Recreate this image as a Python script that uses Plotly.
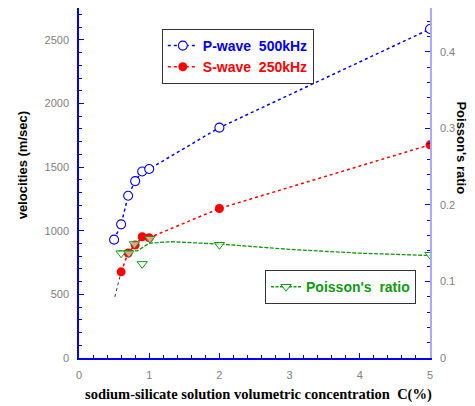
import plotly.graph_objects as go

# ---- data ----
p_x = [0.5, 0.6, 0.7, 0.8, 0.9, 1.0, 2.0, 5.0]
p_v = [930, 1050, 1275, 1390, 1465, 1485, 1810, 2585]

s_x = [0.6, 0.7, 0.8, 0.9, 1.0, 2.0, 5.0]
s_v = [677, 825, 887, 953, 945, 1175, 1675]

ext_x = [0.51, 0.6]
ext_v = [480, 677]

nu_x = [0.6, 0.71, 0.79, 0.9, 1.01, 2.0, 5.0]
nu_v = [0.137, 0.137, 0.149, 0.123, 0.156, 0.148, 0.135]

nu_fit_x = [0.56, 0.83, 1.0, 1.3, 2.0, 3.0, 4.0, 5.0]
nu_fit_v = [0.140, 0.140, 0.150, 0.152, 0.149, 0.142, 0.137, 0.134]

x_ticks = [0, 1, 2, 3, 4, 5]
v_ticks = [0, 500, 1000, 1500, 2000, 2500]
nu_ticks = [0, 0.1, 0.2, 0.3, 0.4]

BLUE = "#0000ee"
RED = "#ff0000"
GREEN = "#119911"
SANS = "Arial, Liberation Sans, sans-serif"

fig = go.Figure()

fig.add_trace(go.Scatter(
    x=ext_x, y=ext_v, mode="lines", showlegend=False,
    line=dict(color="#333333", width=1, dash="dot")))

fig.add_trace(go.Scatter(
    x=nu_fit_x, y=nu_fit_v, mode="lines", yaxis="y2", showlegend=False,
    line=dict(color=GREEN, width=1.3, dash="4px,1.5px")))

fig.add_trace(go.Scatter(
    x=nu_x, y=nu_v, mode="markers", yaxis="y2", showlegend=False,
    marker=dict(symbol="triangle-down", size=9, color="rgba(255,255,255,0.6)",
                line=dict(width=1, color=GREEN))))

# legend-only entry for Poisson's ratio (line + marker symbol)
fig.add_trace(go.Scatter(
    x=[None], y=[None], mode="lines+markers", yaxis="y2",
    name="<span style='color:#119911'>Poisson's  ratio</span>",
    line=dict(color=GREEN, width=1.3, dash="3px,1.5px"),
    marker=dict(symbol="triangle-down", size=9, color="white", line=dict(width=1, color=GREEN)),
    legend="legend2"))

fig.add_trace(go.Scatter(
    x=p_x, y=p_v, mode="lines+markers",
    name="<span style='color:#0000ee'>P-wave  500kHz</span>",
    line=dict(color=BLUE, width=1.5, dash="dot"),
    marker=dict(symbol="circle", size=9, color="white", line=dict(width=1.1, color=BLUE)),
    legend="legend"))

fig.add_trace(go.Scatter(
    x=s_x, y=s_v, mode="lines+markers",
    name="<span style='color:#ff0000'>S-wave  250kHz</span>",
    line=dict(color=RED, width=1.5, dash="dot"),
    marker=dict(symbol="circle", size=9, color=RED),
    legend="legend"))

tickfont = dict(family=SANS, size=11, color="#808080")

fig.update_layout(
    width=467, height=398,
    margin=dict(l=71, r=45, t=0, b=48, autoexpand=False),
    paper_bgcolor="white", plot_bgcolor="white",
    showlegend=True,
    xaxis=dict(
        range=[0, 5], tickvals=x_ticks, ticks="inside", ticklen=5,
        tickcolor=BLUE, showline=True, linecolor=BLUE, linewidth=1.5,
        showgrid=False, zeroline=False, tickfont=tickfont, automargin=False,
        minor=dict(dtick=0.2, ticks="inside", ticklen=3, tickcolor=BLUE),
        ticklabelstandoff=6),
    yaxis=dict(
        range=[0, 2750], tickvals=v_ticks, ticks="inside", ticklen=5,
        tickcolor=BLUE, showline=True, linecolor=BLUE, linewidth=1.5,
        showgrid=False, zeroline=False, tickfont=tickfont, automargin=False,
        minor=dict(dtick=100, ticks="inside", ticklen=3, tickcolor=BLUE),
        ticklabelstandoff=6),
    yaxis2=dict(
        range=[0, 0.4575], tickvals=nu_ticks, ticks="inside", ticklen=5,
        tickcolor=BLUE, showline=True, linecolor="#aaaaff", linewidth=1.5,
        overlaying="y", side="right", anchor="x",
        showgrid=False, zeroline=False, tickfont=tickfont, automargin=False,
        minor=dict(dtick=0.02, ticks="inside", ticklen=3, tickcolor=BLUE),
        ticklabelstandoff=6),
    legend=dict(
        x=0.236, y=0.94, xanchor="left", yanchor="top",
        bordercolor="#333333", borderwidth=1, bgcolor="white",
        font=dict(family=SANS, size=14, color=BLUE, weight="bold"),
        tracegroupgap=0, itemwidth=30),
    legend2=dict(
        x=0.53, y=0.251, xanchor="left", yanchor="top",
        bordercolor="#333333", borderwidth=1, bgcolor="white",
        font=dict(family=SANS, size=14, color=GREEN, weight="bold"),
        itemwidth=30),
    annotations=[
        dict(text="<b>velocities (m/sec)</b>", xref="paper", yref="paper",
             x=-0.16, y=0.55, xanchor="center", yanchor="middle", showarrow=False,
             textangle=-90, font=dict(family=SANS, size=13, color="black")),
        dict(text="<b>Poisson's ratio</b>", xref="paper", yref="paper",
             x=1.09, y=0.6, xanchor="center", yanchor="middle", showarrow=False,
             textangle=90, font=dict(family=SANS, size=13, color="black")),
        dict(text="<b>sodium-silicate solution volumetric concentration  C(%)</b>",
             xref="paper", yref="paper", x=0.51, y=-0.105, xanchor="center", yanchor="middle",
             showarrow=False,
             font=dict(family="Liberation Serif, Times New Roman, serif", size=14.5, color="black")),
    ],
)

fig.write_html("out.html")
